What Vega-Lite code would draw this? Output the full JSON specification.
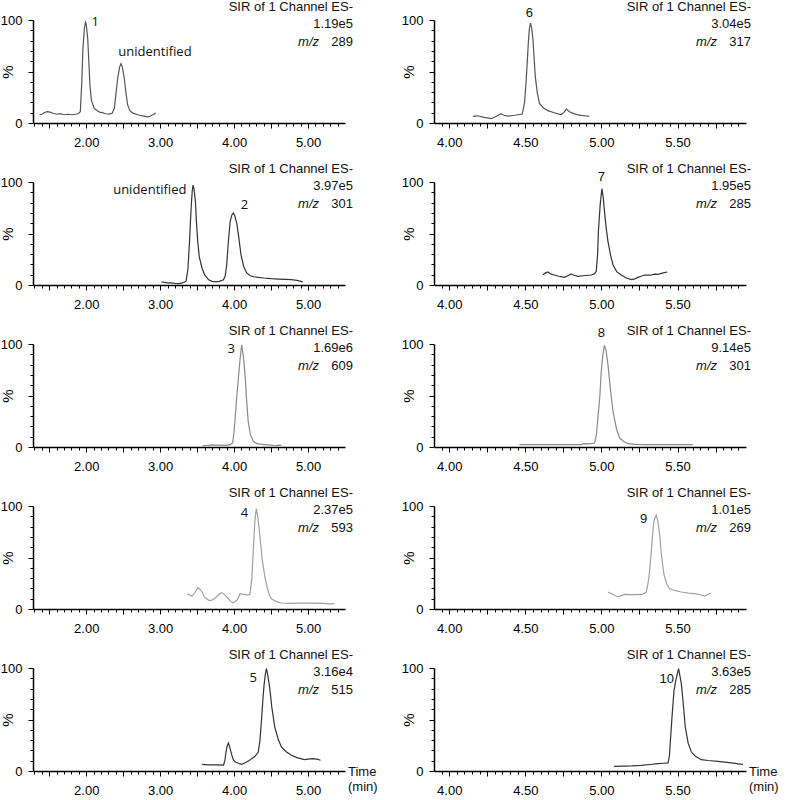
{
  "$schema": "https://vega.github.io/schema/vega-lite/v6.json",
  "background": "white",
  "padding": {"left": 0, "top": 1, "right": 0, "bottom": 0},
  "config": {
    "view": {"stroke": null},
    "axis": {"grid": false, "domainColor": "#000", "tickColor": "#000", "labelColor": "#000", "labelFont": "Liberation Sans", "labelFontSize": 13, "titleFont": "Liberation Sans", "titleFontWeight": "normal", "titleColor": "#000", "domainWidth": 1.5, "tickWidth": 1, "labelOverlap": false, "labelFlush": false},
    "text": {"color": "#111"}
  },
  "datasets": {
    "left": [
      {"p":1,"t":1.37,"v":8},{"p":1,"t":1.40,"v":8.5},{"p":1,"t":1.43,"v":10},{"p":1,"t":1.47,"v":11},{"p":1,"t":1.51,"v":10.5},{"p":1,"t":1.55,"v":9.5},{"p":1,"t":1.6,"v":8.5},{"p":1,"t":1.65,"v":9},{"p":1,"t":1.7,"v":8},{"p":1,"t":1.75,"v":8.5},{"p":1,"t":1.8,"v":8},{"p":1,"t":1.85,"v":8.5},{"p":1,"t":1.89,"v":9},{"p":1,"t":1.92,"v":11},{"p":1,"t":1.94,"v":40},{"p":1,"t":1.955,"v":72},{"p":1,"t":1.975,"v":92},{"p":1,"t":1.99,"v":98},{"p":1,"t":2.0,"v":96},{"p":1,"t":2.02,"v":82},{"p":1,"t":2.035,"v":60},{"p":1,"t":2.05,"v":37},{"p":1,"t":2.07,"v":22},{"p":1,"t":2.11,"v":14},{"p":1,"t":2.15,"v":12},{"p":1,"t":2.18,"v":10.6},{"p":1,"t":2.22,"v":10},{"p":1,"t":2.26,"v":9},{"p":1,"t":2.31,"v":8.6},{"p":1,"t":2.35,"v":9.5},{"p":1,"t":2.38,"v":14},{"p":1,"t":2.40,"v":27},{"p":1,"t":2.425,"v":43},{"p":1,"t":2.45,"v":54},{"p":1,"t":2.47,"v":57.7},{"p":1,"t":2.49,"v":54},{"p":1,"t":2.515,"v":43},{"p":1,"t":2.54,"v":28},{"p":1,"t":2.56,"v":17.6},{"p":1,"t":2.59,"v":12},{"p":1,"t":2.63,"v":9.6},{"p":1,"t":2.68,"v":8.5},{"p":1,"t":2.72,"v":7.5},{"p":1,"t":2.76,"v":7},{"p":1,"t":2.8,"v":6.5},{"p":1,"t":2.83,"v":6},{"p":1,"t":2.86,"v":6.5},{"p":1,"t":2.9,"v":8},{"p":1,"t":2.94,"v":9.6},
      {"p":2,"t":3.016,"v":2.9},{"p":2,"t":3.06,"v":2.5},{"p":2,"t":3.1,"v":2},{"p":2,"t":3.15,"v":2.2},{"p":2,"t":3.2,"v":1.5},{"p":2,"t":3.253,"v":1.3},{"p":2,"t":3.3,"v":2},{"p":2,"t":3.35,"v":3.6},{"p":2,"t":3.375,"v":15},{"p":2,"t":3.397,"v":42},{"p":2,"t":3.41,"v":62},{"p":2,"t":3.424,"v":81},{"p":2,"t":3.435,"v":92},{"p":2,"t":3.445,"v":97},{"p":2,"t":3.46,"v":92},{"p":2,"t":3.477,"v":81},{"p":2,"t":3.49,"v":62},{"p":2,"t":3.508,"v":42},{"p":2,"t":3.53,"v":27},{"p":2,"t":3.566,"v":16.5},{"p":2,"t":3.6,"v":10},{"p":2,"t":3.656,"v":5},{"p":2,"t":3.7,"v":3.5},{"p":2,"t":3.745,"v":3},{"p":2,"t":3.8,"v":3.5},{"p":2,"t":3.857,"v":5},{"p":2,"t":3.88,"v":9},{"p":2,"t":3.9,"v":19.7},{"p":2,"t":3.92,"v":40},{"p":2,"t":3.947,"v":61.8},{"p":2,"t":3.97,"v":68},{"p":2,"t":3.99,"v":69.9},{"p":2,"t":4.01,"v":67},{"p":2,"t":4.036,"v":60},{"p":2,"t":4.06,"v":48},{"p":2,"t":4.094,"v":29},{"p":2,"t":4.13,"v":18},{"p":2,"t":4.17,"v":11.7},{"p":2,"t":4.22,"v":9},{"p":2,"t":4.27,"v":8},{"p":2,"t":4.327,"v":7.4},{"p":2,"t":4.4,"v":6.8},{"p":2,"t":4.45,"v":6.5},{"p":2,"t":4.505,"v":6.1},{"p":2,"t":4.6,"v":5.8},{"p":2,"t":4.7,"v":5.5},{"p":2,"t":4.774,"v":5.2},{"p":2,"t":4.85,"v":4.5},{"p":2,"t":4.93,"v":3},
      {"p":3,"t":3.575,"v":1.3},{"p":3,"t":3.65,"v":1.6},{"p":3,"t":3.7,"v":2.0},{"p":3,"t":3.75,"v":1.8},{"p":3,"t":3.8,"v":1.9},{"p":3,"t":3.88,"v":1.6},{"p":3,"t":3.95,"v":2.3},{"p":3,"t":3.98,"v":4},{"p":3,"t":4.0,"v":15},{"p":3,"t":4.014,"v":28},{"p":3,"t":4.035,"v":48},{"p":3,"t":4.058,"v":67},{"p":3,"t":4.08,"v":85},{"p":3,"t":4.103,"v":99.3},{"p":3,"t":4.125,"v":88},{"p":3,"t":4.148,"v":70},{"p":3,"t":4.17,"v":45},{"p":3,"t":4.19,"v":25},{"p":3,"t":4.22,"v":12},{"p":3,"t":4.26,"v":5.5},{"p":3,"t":4.3,"v":3.5},{"p":3,"t":4.35,"v":2.8},{"p":3,"t":4.417,"v":2.3},{"p":3,"t":4.5,"v":1.8},{"p":3,"t":4.55,"v":1.2},{"p":3,"t":4.6,"v":1.8},{"p":3,"t":4.64,"v":1.6},
      {"p":4,"t":3.365,"v":14.9},{"p":4,"t":3.4,"v":13.5},{"p":4,"t":3.43,"v":12.3},{"p":4,"t":3.47,"v":16},{"p":4,"t":3.512,"v":20.7},{"p":4,"t":3.54,"v":19},{"p":4,"t":3.566,"v":16.5},{"p":4,"t":3.6,"v":11.5},{"p":4,"t":3.656,"v":8.4},{"p":4,"t":3.7,"v":8.5},{"p":4,"t":3.75,"v":11},{"p":4,"t":3.8,"v":14.5},{"p":4,"t":3.834,"v":15.9},{"p":4,"t":3.87,"v":14},{"p":4,"t":3.924,"v":10},{"p":4,"t":3.96,"v":7},{"p":4,"t":3.99,"v":6.1},{"p":4,"t":4.036,"v":8.4},{"p":4,"t":4.06,"v":11},{"p":4,"t":4.08,"v":14.9},{"p":4,"t":4.11,"v":14.5},{"p":4,"t":4.148,"v":14.2},{"p":4,"t":4.18,"v":13.5},{"p":4,"t":4.215,"v":14.2},{"p":4,"t":4.24,"v":30},{"p":4,"t":4.26,"v":57},{"p":4,"t":4.28,"v":85},{"p":4,"t":4.3,"v":97.4},{"p":4,"t":4.32,"v":90},{"p":4,"t":4.35,"v":69.9},{"p":4,"t":4.38,"v":48},{"p":4,"t":4.417,"v":31},{"p":4,"t":4.45,"v":20},{"p":4,"t":4.48,"v":13},{"p":4,"t":4.505,"v":10},{"p":4,"t":4.55,"v":8},{"p":4,"t":4.6,"v":6.5},{"p":4,"t":4.64,"v":5.8},{"p":4,"t":4.75,"v":5.5},{"p":4,"t":4.9,"v":5.8},{"p":4,"t":5.09,"v":5.8},{"p":4,"t":5.2,"v":5.5},{"p":4,"t":5.3,"v":5},{"p":4,"t":5.356,"v":5.2},
      {"p":5,"t":3.566,"v":6.5},{"p":5,"t":3.65,"v":6},{"p":5,"t":3.75,"v":6},{"p":5,"t":3.857,"v":5.8},{"p":5,"t":3.875,"v":10},{"p":5,"t":3.89,"v":18.4},{"p":5,"t":3.905,"v":24},{"p":5,"t":3.924,"v":27.2},{"p":5,"t":3.945,"v":22},{"p":5,"t":3.97,"v":15.2},{"p":5,"t":3.99,"v":11},{"p":5,"t":4.014,"v":8.7},{"p":5,"t":4.06,"v":7.5},{"p":5,"t":4.103,"v":6.5},{"p":5,"t":4.15,"v":8},{"p":5,"t":4.2,"v":10},{"p":5,"t":4.237,"v":12},{"p":5,"t":4.28,"v":14},{"p":5,"t":4.327,"v":18.4},{"p":5,"t":4.35,"v":30},{"p":5,"t":4.37,"v":49},{"p":5,"t":4.39,"v":70},{"p":5,"t":4.407,"v":84.8},{"p":5,"t":4.425,"v":95},{"p":5,"t":4.438,"v":99.3},{"p":5,"t":4.455,"v":93},{"p":5,"t":4.48,"v":81.6},{"p":5,"t":4.51,"v":62},{"p":5,"t":4.55,"v":42.7},{"p":5,"t":4.6,"v":30},{"p":5,"t":4.64,"v":23.3},{"p":5,"t":4.7,"v":19},{"p":5,"t":4.774,"v":15.2},{"p":5,"t":4.85,"v":13},{"p":5,"t":4.95,"v":11},{"p":5,"t":5.0,"v":11.5},{"p":5,"t":5.065,"v":12},{"p":5,"t":5.12,"v":11.5},{"p":5,"t":5.17,"v":10.4},
      {"p":1,"k":"peak","t":2.12,"v":98,"label":"1"},
      {"p":1,"k":"peak","t":2.93,"v":69,"label":"unidentified"},
      {"p":2,"k":"peak","t":2.86,"v":92,"label":"unidentified"},
      {"p":2,"k":"peak","t":4.14,"v":78,"label":"2"},
      {"p":3,"k":"peak","t":3.96,"v":95,"label":"3"},
      {"p":4,"k":"peak","t":4.14,"v":93,"label":"4"},
      {"p":5,"k":"peak","t":4.26,"v":90,"label":"5"},
      {"p":1,"k":"head","scale":"1.19e5","mz":"289"},
      {"p":2,"k":"head","scale":"3.97e5","mz":"301"},
      {"p":3,"k":"head","scale":"1.69e6","mz":"609"},
      {"p":4,"k":"head","scale":"2.37e5","mz":"593"},
      {"p":5,"k":"head","scale":"3.16e4","mz":"515"},
      {"p":5,"k":"time","label":"Time\n(min)"}
    ],
    "right": [
      {"p":6,"t":4.155,"v":6.4},{"p":6,"t":4.187,"v":7},{"p":6,"t":4.23,"v":5.5},{"p":6,"t":4.275,"v":4.2},{"p":6,"t":4.31,"v":6.5},{"p":6,"t":4.34,"v":9},{"p":6,"t":4.36,"v":7.5},{"p":6,"t":4.385,"v":6.7},{"p":6,"t":4.43,"v":7.5},{"p":6,"t":4.48,"v":8.7},{"p":6,"t":4.495,"v":20},{"p":6,"t":4.505,"v":40},{"p":6,"t":4.513,"v":60},{"p":6,"t":4.52,"v":78.5},{"p":6,"t":4.527,"v":92},{"p":6,"t":4.534,"v":97},{"p":6,"t":4.542,"v":92},{"p":6,"t":4.55,"v":81.7},{"p":6,"t":4.557,"v":65},{"p":6,"t":4.565,"v":46},{"p":6,"t":4.578,"v":30},{"p":6,"t":4.593,"v":19},{"p":6,"t":4.62,"v":14.5},{"p":6,"t":4.648,"v":12},{"p":6,"t":4.69,"v":10},{"p":6,"t":4.735,"v":8},{"p":6,"t":4.755,"v":10.5},{"p":6,"t":4.77,"v":13.5},{"p":6,"t":4.79,"v":11},{"p":6,"t":4.81,"v":9.6},{"p":6,"t":4.84,"v":8.2},{"p":6,"t":4.867,"v":7.4},{"p":6,"t":4.9,"v":6.8},{"p":6,"t":4.92,"v":6.4},
      {"p":7,"t":4.615,"v":10},{"p":7,"t":4.63,"v":11.5},{"p":7,"t":4.648,"v":12.6},{"p":7,"t":4.67,"v":10.5},{"p":7,"t":4.69,"v":9.7},{"p":7,"t":4.72,"v":8.5},{"p":7,"t":4.757,"v":7.4},{"p":7,"t":4.78,"v":9},{"p":7,"t":4.8,"v":10.7},{"p":7,"t":4.82,"v":9.5},{"p":7,"t":4.845,"v":8.4},{"p":7,"t":4.88,"v":9},{"p":7,"t":4.933,"v":9.7},{"p":7,"t":4.955,"v":11},{"p":7,"t":4.966,"v":13.3},{"p":7,"t":4.975,"v":30},{"p":7,"t":4.98,"v":52},{"p":7,"t":4.992,"v":78},{"p":7,"t":5.003,"v":93.5},{"p":7,"t":5.012,"v":85},{"p":7,"t":5.02,"v":71.5},{"p":7,"t":5.03,"v":57},{"p":7,"t":5.043,"v":42.4},{"p":7,"t":5.06,"v":29},{"p":7,"t":5.076,"v":19.7},{"p":7,"t":5.1,"v":13},{"p":7,"t":5.13,"v":9.7},{"p":7,"t":5.16,"v":7},{"p":7,"t":5.196,"v":5.2},{"p":7,"t":5.22,"v":6},{"p":7,"t":5.24,"v":7.4},{"p":7,"t":5.26,"v":8.5},{"p":7,"t":5.284,"v":9.7},{"p":7,"t":5.32,"v":9.5},{"p":7,"t":5.35,"v":10.5},{"p":7,"t":5.37,"v":10.4},{"p":7,"t":5.4,"v":11.5},{"p":7,"t":5.433,"v":12.6},
      {"p":8,"t":4.461,"v":2.3},{"p":8,"t":4.6,"v":2.3},{"p":8,"t":4.75,"v":2.3},{"p":8,"t":4.867,"v":2.3},{"p":8,"t":4.889,"v":3.2},{"p":8,"t":4.92,"v":3},{"p":8,"t":4.955,"v":3.9},{"p":8,"t":4.967,"v":12},{"p":8,"t":4.977,"v":28},{"p":8,"t":4.99,"v":50},{"p":8,"t":4.999,"v":73.5},{"p":8,"t":5.01,"v":90},{"p":8,"t":5.02,"v":98.7},{"p":8,"t":5.03,"v":94},{"p":8,"t":5.043,"v":80},{"p":8,"t":5.06,"v":55},{"p":8,"t":5.076,"v":34.6},{"p":8,"t":5.1,"v":17},{"p":8,"t":5.12,"v":8.7},{"p":8,"t":5.15,"v":5},{"p":8,"t":5.174,"v":3.2},{"p":8,"t":5.22,"v":2.6},{"p":8,"t":5.284,"v":2.3},{"p":8,"t":5.4,"v":2.3},{"p":8,"t":5.5,"v":2.3},{"p":8,"t":5.6,"v":2.3},
      {"p":9,"t":5.043,"v":16.5},{"p":9,"t":5.07,"v":14.5},{"p":9,"t":5.108,"v":11.7},{"p":9,"t":5.13,"v":13},{"p":9,"t":5.152,"v":14.2},{"p":9,"t":5.2,"v":14},{"p":9,"t":5.24,"v":13.9},{"p":9,"t":5.27,"v":14.5},{"p":9,"t":5.295,"v":16.5},{"p":9,"t":5.31,"v":28},{"p":9,"t":5.323,"v":47},{"p":9,"t":5.335,"v":70},{"p":9,"t":5.345,"v":86},{"p":9,"t":5.36,"v":91},{"p":9,"t":5.37,"v":86},{"p":9,"t":5.382,"v":73},{"p":9,"t":5.395,"v":52},{"p":9,"t":5.41,"v":34},{"p":9,"t":5.43,"v":24},{"p":9,"t":5.448,"v":19.7},{"p":9,"t":5.48,"v":18},{"p":9,"t":5.525,"v":16.5},{"p":9,"t":5.57,"v":15.5},{"p":9,"t":5.612,"v":14.9},{"p":9,"t":5.65,"v":13.8},{"p":9,"t":5.678,"v":12.6},{"p":9,"t":5.7,"v":14},{"p":9,"t":5.718,"v":15.5},
      {"p":10,"t":5.082,"v":4.5},{"p":10,"t":5.15,"v":4.8},{"p":10,"t":5.2,"v":5},{"p":10,"t":5.262,"v":5.5},{"p":10,"t":5.32,"v":6.3},{"p":10,"t":5.372,"v":7.1},{"p":10,"t":5.41,"v":7.5},{"p":10,"t":5.438,"v":7.8},{"p":10,"t":5.447,"v":15},{"p":10,"t":5.455,"v":33},{"p":10,"t":5.465,"v":55},{"p":10,"t":5.477,"v":78.3},{"p":10,"t":5.489,"v":88},{"p":10,"t":5.499,"v":94.5},{"p":10,"t":5.507,"v":99.3},{"p":10,"t":5.515,"v":93},{"p":10,"t":5.525,"v":84.8},{"p":10,"t":5.538,"v":65},{"p":10,"t":5.551,"v":42.7},{"p":10,"t":5.57,"v":27},{"p":10,"t":5.591,"v":18.4},{"p":10,"t":5.62,"v":14},{"p":10,"t":5.657,"v":11},{"p":10,"t":5.7,"v":10.2},{"p":10,"t":5.766,"v":9.4},{"p":10,"t":5.81,"v":8.6},{"p":10,"t":5.854,"v":7.8},{"p":10,"t":5.9,"v":7},{"p":10,"t":5.93,"v":6.5},
      {"p":6,"k":"peak","t":4.527,"v":107,"label":"6"},
      {"p":7,"k":"peak","t":5.0,"v":105,"label":"7"},
      {"p":8,"k":"peak","t":5.0,"v":111,"label":"8"},
      {"p":9,"k":"peak","t":5.277,"v":87,"label":"9"},
      {"p":10,"k":"peak","t":5.43,"v":89,"label":"10"},
      {"p":6,"k":"head","scale":"3.04e5","mz":"317"},
      {"p":7,"k":"head","scale":"1.95e5","mz":"285"},
      {"p":8,"k":"head","scale":"9.14e5","mz":"301"},
      {"p":9,"k":"head","scale":"1.01e5","mz":"269"},
      {"p":10,"k":"head","scale":"3.63e5","mz":"285"},
      {"p":10,"k":"time","label":"Time\n(min)"}
    ]
  },
  "hconcat": [
    {
      "data": {"name": "left"},
      "facet": {"row": {"field": "p", "type": "ordinal", "header": null}},
      "spacing": {"row": 59},
      "bounds": "flush",
      "resolve": {"axis": {"x": "independent", "y": "independent"}},
      "spec": {
        "width": 312,
        "height": 103,
        "encoding": {
          "x": {"field": "t", "type": "quantitative", "scale": {"domain": [1.28, 5.5], "nice": false, "zero": false},
            "axis": {"title": null, "values": [1.3,1.4,1.5,1.6,1.7,1.8,1.9,2.0,2.1,2.2,2.3,2.4,2.5,2.6,2.7,2.8,2.9,3.0,3.1,3.2,3.3,3.4,3.5,3.6,3.7,3.8,3.9,4.0,4.1,4.2,4.3,4.4,4.5,4.6,4.7,4.8,4.9,5.0,5.1,5.2,5.3,5.4],
              "labelExpr": "abs(datum.value - round(datum.value)) < 0.001 ? format(datum.value, '.2f') : ''",
              "tickSize": {"condition": {"test": "abs(datum.value*2 - round(datum.value*2)) < 0.001", "value": 5}, "value": 3},
              "labelPadding": 8}},
          "y": {"field": "v", "type": "quantitative", "scale": {"domain": [0, 100], "nice": false},
            "axis": {"title": "%", "titleX": -18, "titleY": 51.5, "titleFontSize": 15, "values": [0,10,20,30,40,50,60,70,80,90,100],
              "labelExpr": "datum.value == 0 || datum.value == 100 ? datum.label : ''",
              "tickSize": {"condition": {"test": "datum.value % 50 == 0", "value": 5}, "value": 3},
              "labelPadding": 6}}
        },
        "layer": [
          {"mark": {"type": "line", "strokeWidth": 1.2},
           "transform": [{"filter": "!datum.k"}],
           "encoding": {"color": {"field": "p", "type": "nominal", "legend": null, "scale": {"domain": [1,2,3,4,5], "range": ["#555555","#333333","#8a8a8a","#a0a0a0","#333333"]}}}},
          {"mark": {"type": "text", "font": "Open Sans", "fontSize": 13, "color": "#111"},
           "transform": [{"filter": "datum.k == 'peak'"}],
           "encoding": {"text": {"field": "label"}}},
          {"mark": {"type": "text", "font": "Liberation Sans", "fontSize": 13, "align": "right", "baseline": "middle", "dx": 8, "dy": -13},
           "transform": [{"filter": "datum.k == 'head'"}],
           "encoding": {"x": {"value": "width"}, "y": {"value": 0}, "text": {"value": "SIR of 1 Channel ES-"}}},
          {"mark": {"type": "text", "font": "Liberation Sans", "fontSize": 13, "align": "right", "baseline": "middle", "dx": 8, "dy": 4},
           "transform": [{"filter": "datum.k == 'head'"}],
           "encoding": {"x": {"value": "width"}, "y": {"value": 0}, "text": {"field": "scale"}}},
          {"mark": {"type": "text", "font": "Liberation Sans", "fontSize": 13, "fontStyle": "italic", "align": "right", "baseline": "middle", "dx": -26, "dy": 22},
           "transform": [{"filter": "datum.k == 'head'"}],
           "encoding": {"x": {"value": "width"}, "y": {"value": 0}, "text": {"value": "m/z"}}},
          {"mark": {"type": "text", "font": "Liberation Sans", "fontSize": 13, "align": "right", "baseline": "middle", "dx": 8, "dy": 22},
           "transform": [{"filter": "datum.k == 'head'"}],
           "encoding": {"x": {"value": "width"}, "y": {"value": 0}, "text": {"field": "mz"}}},
          {"mark": {"type": "text", "font": "Liberation Sans", "fontSize": 13, "align": "left", "baseline": "top", "dx": 3, "dy": -5, "lineBreak": "\n", "lineHeight": 15},
           "transform": [{"filter": "datum.k == 'time'"}],
           "encoding": {"x": {"value": "width"}, "y": {"value": "height"}, "text": {"field": "label"}}}
        ]
      }
    },
    {
      "data": {"name": "right"},
      "facet": {"row": {"field": "p", "type": "ordinal", "header": null}},
      "spacing": {"row": 59},
      "bounds": "flush",
      "resolve": {"axis": {"x": "independent", "y": "independent"}},
      "spec": {
        "width": 312,
        "height": 103,
        "encoding": {
          "x": {"field": "t", "type": "quantitative", "scale": {"domain": [3.9, 5.95], "nice": false, "zero": false},
            "axis": {"title": null, "values": [3.95,4.0,4.05,4.1,4.15,4.2,4.25,4.3,4.35,4.4,4.45,4.5,4.55,4.6,4.65,4.7,4.75,4.8,4.85,4.9,4.95,5.0,5.05,5.1,5.15,5.2,5.25,5.3,5.35,5.4,5.45,5.5,5.55,5.6,5.65,5.7,5.75,5.8,5.85,5.9],
              "labelExpr": "abs(datum.value*2 - round(datum.value*2)) < 0.001 ? format(datum.value, '.2f') : ''",
              "tickSize": {"condition": {"test": "abs(datum.value*4 - round(datum.value*4)) < 0.001", "value": 5}, "value": 3},
              "labelPadding": 8}},
          "y": {"field": "v", "type": "quantitative", "scale": {"domain": [0, 100], "nice": false},
            "axis": {"title": "%", "titleX": -18, "titleY": 51.5, "titleFontSize": 15, "values": [0,10,20,30,40,50,60,70,80,90,100],
              "labelExpr": "datum.value == 0 || datum.value == 100 ? datum.label : ''",
              "tickSize": {"condition": {"test": "datum.value % 50 == 0", "value": 5}, "value": 3},
              "labelPadding": 6}}
        },
        "layer": [
          {"mark": {"type": "line", "strokeWidth": 1.2},
           "transform": [{"filter": "!datum.k"}],
           "encoding": {"color": {"field": "p", "type": "nominal", "legend": null, "scale": {"domain": [6,7,8,9,10], "range": ["#555555","#444444","#ababab","#444444","#333333"]}}}},
          {"mark": {"type": "text", "font": "Liberation Sans", "fontSize": 13, "color": "#111"},
           "transform": [{"filter": "datum.k == 'peak'"}],
           "encoding": {"text": {"field": "label"}}},
          {"mark": {"type": "text", "font": "Liberation Sans", "fontSize": 13, "align": "right", "baseline": "middle", "dx": 5, "dy": -13},
           "transform": [{"filter": "datum.k == 'head'"}],
           "encoding": {"x": {"value": "width"}, "y": {"value": 0}, "text": {"value": "SIR of 1 Channel ES-"}}},
          {"mark": {"type": "text", "font": "Liberation Sans", "fontSize": 13, "align": "right", "baseline": "middle", "dx": 5, "dy": 4},
           "transform": [{"filter": "datum.k == 'head'"}],
           "encoding": {"x": {"value": "width"}, "y": {"value": 0}, "text": {"field": "scale"}}},
          {"mark": {"type": "text", "font": "Liberation Sans", "fontSize": 13, "fontStyle": "italic", "align": "right", "baseline": "middle", "dx": -29, "dy": 22},
           "transform": [{"filter": "datum.k == 'head'"}],
           "encoding": {"x": {"value": "width"}, "y": {"value": 0}, "text": {"value": "m/z"}}},
          {"mark": {"type": "text", "font": "Liberation Sans", "fontSize": 13, "align": "right", "baseline": "middle", "dx": 5, "dy": 22},
           "transform": [{"filter": "datum.k == 'head'"}],
           "encoding": {"x": {"value": "width"}, "y": {"value": 0}, "text": {"field": "mz"}}},
          {"mark": {"type": "text", "font": "Liberation Sans", "fontSize": 13, "align": "left", "baseline": "top", "dx": 3, "dy": -5, "lineBreak": "\n", "lineHeight": 15},
           "transform": [{"filter": "datum.k == 'time'"}],
           "encoding": {"x": {"value": "width"}, "y": {"value": "height"}, "text": {"field": "label"}}}
        ]
      }
    }
  ],
  "spacing": 23
}
